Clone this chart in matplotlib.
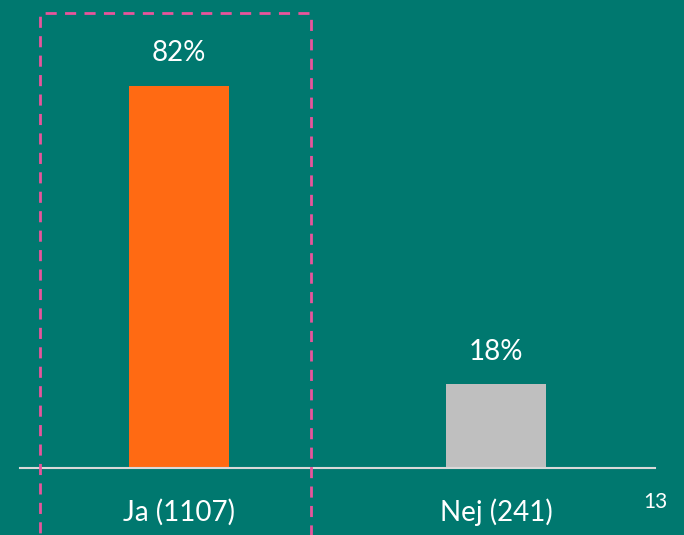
import matplotlib.pyplot as plt
from matplotlib.patches import Rectangle

categories = ["Ja (1107)", "Nej (241)"]
values = [82, 18]
colors = ["#FF6A13", "#BFBFBF"]
page_number = "13"

bg = "#00786F"
plt.rcParams['font.family'] = ['Lato', 'DejaVu Sans']

fig = plt.figure(figsize=(6.84, 5.35), dpi=100, facecolor=bg)
ax = fig.add_axes([20 / 684, 67 / 535, 635 / 684, 466 / 535])
ax.set_facecolor(bg)

x = range(len(categories))
bars = ax.bar(x, values, width=0.315, color=colors, zorder=2)
for b, v in zip(bars, values):
    ax.annotate(f"{v}%", (b.get_x() + b.get_width() / 2, v),
                xytext=(0, 14), textcoords="offset points",
                ha="center", va="bottom", color="white", fontsize=20)

ax.set_xlim(-0.5, 1.5)
ax.set_ylim(0, 100)
ax.set_xticks(list(x))
ax.set_xticklabels(categories, color="white", fontsize=20)
ax.tick_params(axis="x", length=0, pad=22)
ax.set_yticks([])
for s in ["top", "left", "right"]:
    ax.spines[s].set_visible(False)
ax.spines["bottom"].set_color("#D9D9D9")
ax.spines["bottom"].set_linewidth(1.5)

# dashed highlight box around the first bar
rect = Rectangle((40 / 684, -0.1), 271 / 684, 1.1 - 13 / 535,
                 transform=fig.transFigure, fill=False,
                 edgecolor="#E8559C", linewidth=2.0,
                 linestyle=(0, (4, 3)), clip_on=False)
fig.patches.append(rect)

fig.text(655 / 684, 1 - 502 / 535, page_number, color="white",
         fontsize=15, ha="center", va="center")

fig.savefig("out.png", dpi=100, facecolor=bg)
